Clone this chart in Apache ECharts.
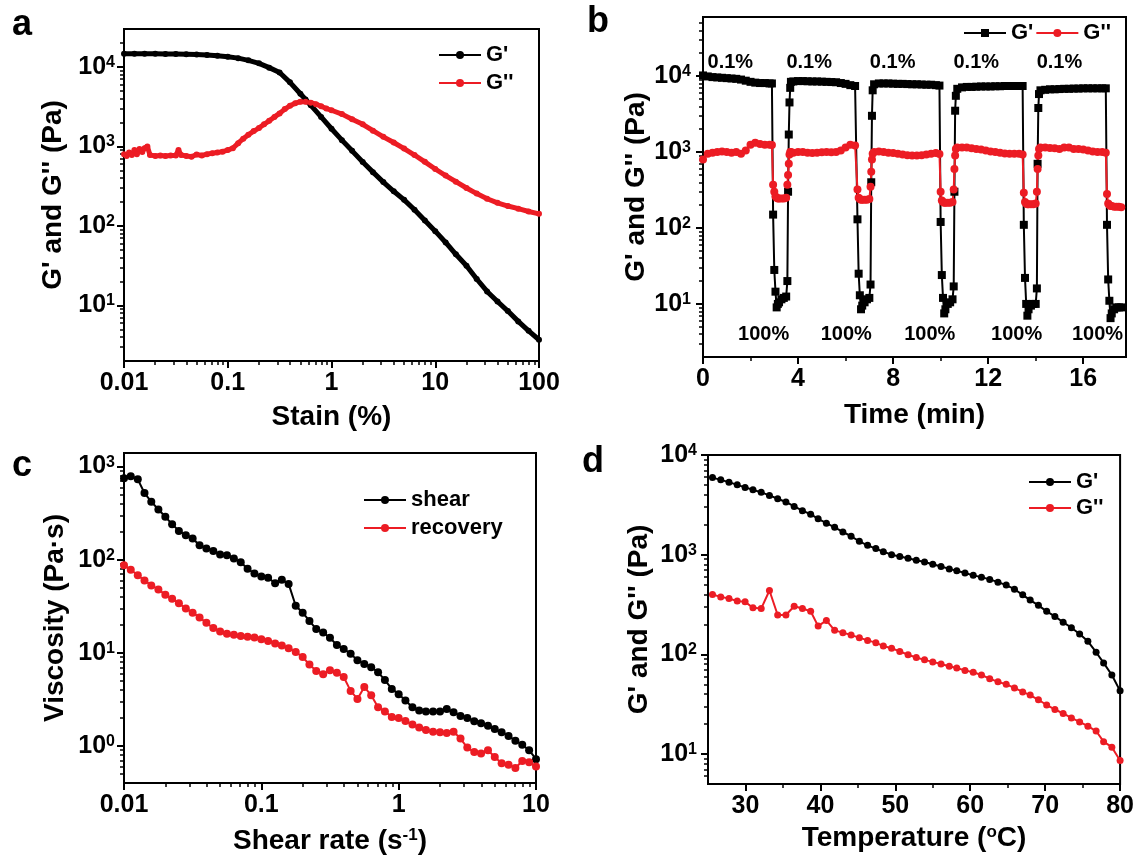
<!DOCTYPE html>
<html>
<head>
<meta charset="utf-8">
<script src="https://cdn.jsdelivr.net/npm/echarts@6/dist/echarts.min.js"></script>
<style>
  html, body { margin: 0; padding: 0; background: #fff; }
  #chart { width: 1137px; height: 859px; }
</style>
</head>
<body>
<div id="chart"></div>
<script>
// ---- panel a : strain sweep ----
var strainA = [0.01, 0.0126, 0.0158, 0.02, 0.0251, 0.0316, 0.0398, 0.0501, 0.0631, 0.0794, 0.1, 0.126, 0.158, 0.2, 0.251, 0.316, 0.398, 0.501, 0.562, 0.631, 0.794, 1, 1.26, 1.58, 2, 2.51, 3.16, 3.98, 5.01, 6.31, 7.94, 10, 12.6, 15.8, 20, 25.1, 31.6, 39.8, 50.1, 63.1, 79.4, 100];
var storageA = [14700, 14700, 14600, 14600, 14500, 14500, 14400, 14300, 14100, 13800, 13400, 12900, 12100, 11100, 9800, 8500, 6400, 4600, 3900, 3300, 2350, 1670, 1200, 880, 636, 475, 356, 273, 213, 160, 117, 86, 62, 44, 31.5, 21.5, 15, 11.2, 8.5, 6.3, 4.8, 3.7];
var lossStrainA = [0.01, 0.0106, 0.0112, 0.0119, 0.0126, 0.0133, 0.0141, 0.015, 0.0158, 0.0168, 0.0178, 0.02, 0.0224, 0.0251, 0.0282, 0.0316, 0.0335, 0.0355, 0.0398, 0.0447, 0.0501, 0.0562, 0.0631, 0.0708, 0.0794, 0.0891, 0.1, 0.112, 0.126, 0.141, 0.158, 0.178, 0.2, 0.224, 0.251, 0.282, 0.316, 0.355, 0.398, 0.447, 0.501, 0.562, 0.631, 0.708, 0.794, 0.891, 1, 1.26, 1.58, 2, 2.51, 3.16, 3.98, 5.01, 6.31, 7.94, 10, 12.6, 15.8, 20, 25.1, 31.6, 39.8, 50.1, 63.1, 79.4, 100];
var lossA = [800, 760, 840, 780, 900, 800, 930, 850, 950, 1000, 780, 760, 770, 760, 770, 770, 900, 780, 760, 740, 790, 770, 800, 820, 840, 860, 900, 950, 1100, 1250, 1400, 1560, 1700, 1900, 2100, 2350, 2600, 2950, 3250, 3500, 3650, 3650, 3550, 3400, 3200, 3000, 2850, 2550, 2200, 1900, 1580, 1320, 1120, 940, 780, 640, 520, 430, 360, 300, 255, 220, 195, 178, 165, 152, 142];

// ---- panel b : alternating strain 0.1 % / 100 % ----
var timeB = [
  0, 0.2, 0.4, 0.6, 0.8, 1.0, 1.2, 1.4, 1.6, 1.8, 2.0, 2.2, 2.4, 2.6, 2.8, 2.9,
  2.95, 3.0, 3.05, 3.1, 3.15, 3.2, 3.3, 3.4, 3.5,
  3.55, 3.58, 3.61, 3.64, 3.67, 3.7,
  3.8, 4.0, 4.2, 4.4, 4.6, 4.8, 5.0, 5.2, 5.4, 5.6, 5.8, 6.0, 6.2, 6.4,
  6.5, 6.55, 6.6, 6.65, 6.7, 6.8, 6.9, 7.0,
  7.05, 7.08, 7.11, 7.14, 7.2,
  7.4, 7.6, 7.8, 8.0, 8.2, 8.4, 8.6, 8.8, 9.0, 9.2, 9.4, 9.6, 9.8, 9.95,
  10.0, 10.05, 10.1, 10.15, 10.2, 10.3, 10.4, 10.5,
  10.55, 10.58, 10.61, 10.64, 10.7,
  10.9, 11.1, 11.3, 11.5, 11.7, 11.9, 12.1, 12.3, 12.5, 12.7, 12.9, 13.1, 13.3, 13.45,
  13.5, 13.55, 13.6, 13.65, 13.7, 13.8, 13.9, 14.0,
  14.05, 14.08, 14.11, 14.14, 14.2,
  14.4, 14.6, 14.8, 15.0, 15.2, 15.4, 15.6, 15.8, 16.0, 16.2, 16.4, 16.6, 16.8, 16.95,
  17.0, 17.05, 17.1, 17.15, 17.2, 17.3, 17.4, 17.5, 17.6
];
var storageB = [
  10200, 9900, 9700, 9600, 9500, 9400, 9300, 9200, 9000, 8700, 8400, 8200, 8100, 8100, 8000, 8000,
  150, 28, 14.5, 9, 10, 10.5, 11.5, 12, 12.5,
  20, 300, 1700, 4500, 7000, 8400,
  8500, 8600, 8600, 8550, 8500, 8500, 8450, 8400, 8350, 8300, 8100, 7900, 7600, 7400,
  130, 25, 13, 8.5, 9.5, 10.5, 11.5, 12,
  18, 400, 3000, 6500, 7800,
  8000, 8000, 8000, 7950, 7900, 7900, 7850, 7800, 7800, 7750, 7700, 7700, 7600, 7500,
  120, 24, 12, 7.5, 8.5, 10, 10.5, 11.5,
  17, 300, 3500, 5500, 6800,
  7100, 7200, 7200, 7250, 7300, 7300, 7300, 7350, 7350, 7400, 7400, 7400, 7400, 7400,
  110, 22, 10, 7, 8.5, 9.5, 10, 10,
  16, 700, 3800, 5800, 6500,
  6600, 6700, 6700, 6750, 6800, 6800, 6850, 6850, 6900, 6900, 6900, 6900, 6900, 6900,
  110, 21, 11, 6.5, 7.5, 8.5, 9, 9, 9
];
var lossB = [
  800, 950, 980, 1000, 1020, 1000, 980, 1000, 950, 1050, 1250, 1330, 1280, 1250, 1250, 1240,
  370, 300, 260, 250, 245, 245, 245, 245, 250,
  370, 500, 700, 930, 1000, 1000,
  980, 1000, 1000, 980, 970, 980, 990, 1000, 990, 1000, 1050, 1150, 1250, 1220,
  320, 250, 240, 235, 235, 235, 235, 240,
  350, 550, 800, 950, 1000,
  1020, 1000, 980, 970, 950, 930, 910, 900, 900, 910, 930, 950, 970, 940,
  300, 230, 220, 215, 215, 215, 215, 220,
  320, 600, 900, 1100, 1150,
  1150, 1150, 1120, 1100, 1080, 1050, 1020, 1000, 980, 960, 950, 950, 950, 930,
  290, 220, 210, 205, 205, 205, 205, 210,
  300, 600, 900, 1100, 1150,
  1150, 1130, 1120, 1100, 1150, 1150, 1100, 1100, 1080, 1050, 1020, 1000, 1000, 980,
  280, 210, 200, 195, 195, 190, 190, 190, 188
];
var lowStrainTimes = [1.15, 4.47, 7.98, 11.5, 15.0];
var highStrainTimes = [2.55, 6.03, 9.54, 13.2, 16.6];
var lowStrainText = '0.1%';
var highStrainText = '100%';
var timeMinorTicks = [2, 6, 10, 14];

// ---- panel c : viscosity vs shear rate ----
var shearRateC = [0.01, 0.0112, 0.0126, 0.0141, 0.0158, 0.0178, 0.02, 0.0224, 0.0251, 0.0282, 0.0316, 0.0355, 0.0398, 0.0447, 0.0501, 0.0562, 0.0631, 0.0708, 0.0794, 0.0891, 0.1, 0.112, 0.126, 0.141, 0.158, 0.178, 0.2, 0.224, 0.251, 0.282, 0.316, 0.355, 0.398, 0.447, 0.501, 0.562, 0.631, 0.708, 0.794, 0.891, 1, 1.12, 1.26, 1.41, 1.58, 1.78, 2, 2.24, 2.51, 2.82, 3.16, 3.55, 3.98, 4.47, 5.01, 5.62, 6.31, 7.08, 7.94, 8.91, 10];
var shearVisc = [750, 790, 730, 520, 420, 346, 289, 241, 204, 183, 169, 143, 132, 124, 114, 112, 103, 94, 80, 71, 66, 64, 56, 61, 55, 32, 27, 22, 18, 16.5, 14.5, 12.1, 11.0, 9.8, 8.3, 7.6, 7.0, 6.2, 5.1, 4.1, 3.6, 3.07, 2.6, 2.4, 2.35, 2.35, 2.35, 2.5, 2.3, 2.1, 2.0, 1.84, 1.75, 1.65, 1.52, 1.4, 1.28, 1.14, 1.03, 0.9, 0.72];
var recoveryVisc = [87, 78, 68, 60, 53, 48, 42, 38, 34, 30, 27, 24, 21, 18.5, 17, 16, 15.6, 15.2, 14.9, 14.6, 14.0, 13.4, 12.6, 12, 11.2, 10.2, 9.0, 7.5, 6.4, 5.9, 6.5, 6.1, 5.5, 3.9, 3.2, 4.3, 3.5, 2.6, 2.35, 2.05, 2.0, 1.85, 1.7, 1.58, 1.48, 1.42, 1.4, 1.38, 1.42, 1.2, 0.96, 0.86, 0.83, 0.9, 0.76, 0.65, 0.63, 0.58, 0.69, 0.67, 0.6];

// ---- panel d : temperature sweep ----
var tempD = [25.6, 26.7, 27.8, 28.9, 29.95, 31.0, 32.1, 33.2, 34.3, 35.4, 36.5, 37.6, 38.7, 39.7, 40.8, 41.9, 43.0, 44.1, 45.2, 46.3, 47.4, 48.4, 49.5, 50.6, 51.7, 52.8, 53.9, 55.0, 56.1, 57.2, 58.2, 59.3, 60.4, 61.5, 62.6, 63.7, 64.8, 65.9, 67.0, 68.0, 69.1, 70.2, 71.3, 72.4, 73.5, 74.6, 75.7, 76.8, 77.8, 78.9, 80.0];
var storageD = [5930, 5630, 5340, 5020, 4730, 4480, 4220, 3930, 3640, 3380, 3050, 2760, 2550, 2290, 2070, 1880, 1690, 1530, 1360, 1240, 1150, 1070, 1000, 960, 920, 880, 845, 800, 760, 720, 690, 655, 620, 595, 565, 530, 495, 450, 395, 350, 310, 270, 240, 210, 185, 160, 135, 105, 82, 62, 43];
var lossD = [398, 377, 363, 342, 336, 293, 288, 437, 248, 248, 304, 288, 271, 192, 219, 174, 165, 156, 147, 138, 131, 121, 115, 107, 99, 93, 88, 84, 80, 76, 73, 69, 66, 62, 57, 53, 50, 46, 42, 39, 35, 31, 28, 25.5, 23, 21, 19, 17, 13.3, 11.7, 8.6];

var tempTicks = [30, 40, 50, 60, 70, 80];
var tempMinorTicks = [35, 45, 55, 65, 75];

var FONT = '"Liberation Sans", Arial, sans-serif';
var RED = '#ec1c24';
var BLACK = '#000';

function zip(xs, ys) {
  return xs.map(function (x, i) { return [x, ys[i]]; });
}

// 2..9 x 10^n between min and max, in log10 units (drawn on a linear twin axis)
function logMinor(min, max) {
  var out = [];
  for (var d = Math.pow(10, Math.floor(Math.log10(min))); d < max; d *= 10) {
    for (var k = 2; k <= 9; k++) {
      var v = k * d;
      if (v > min * 1.0001 && v < max * 0.9999) out.push(Math.log10(v));
    }
  }
  return out;
}

function powLabel(v) {
  return '10{sup|' + Math.round(Math.log10(v)) + '}';
}
function plainLabel(v) {
  return String(+(+v).toPrecision(3));
}

var labelSup = { fontSize: 16, fontWeight: 'bold', fontFamily: FONT, color: BLACK, verticalAlign: 'top', lineHeight: 14 };
var nameSup = { fontSize: 17, fontWeight: 'bold', fontFamily: FONT, color: BLACK, verticalAlign: 'top', lineHeight: 16 };

function axis(gridIndex, type, min, max, name, nameGap, label, tick, extra) {
  return Object.assign({
    type: type, gridIndex: gridIndex, min: min, max: max,
    name: name, nameLocation: 'middle', nameGap: nameGap,
    nameTextStyle: { color: BLACK, fontSize: 28, fontWeight: 'bold', fontFamily: FONT, rich: { sup: nameSup } },
    axisLine: { show: true, onZero: false, lineStyle: { color: BLACK, width: 2 } },
    axisTick: Object.assign({ show: true, length: 7, lineStyle: { color: BLACK, width: 2 } }, tick || {}),
    axisLabel: Object.assign({ color: BLACK, fontSize: 25, fontWeight: 'bold', fontFamily: FONT, margin: 9, rich: { sup: labelSup } }, label || {}),
    splitLine: { show: false }
  }, extra || {});
}

// linear twin axis on the same edge, only used to draw the short ticks
// (its line sits exactly on the main axis line; ticks vanish if the line is hidden)
function minorAxis(gridIndex, min, max, position, values) {
  return {
    type: 'value', gridIndex: gridIndex, min: min, max: max, position: position,
    axisLine: { show: true, onZero: false, lineStyle: { color: BLACK, width: 2 } },
    axisLabel: { show: false },
    axisTick: { show: true, length: 4, customValues: values, lineStyle: { color: BLACK, width: 1.5 } },
    splitLine: { show: false }
  };
}
function logMinorAxis(gridIndex, min, max, position) {
  return minorAxis(gridIndex, Math.log10(min), Math.log10(max), position, logMinor(min, max));
}

function lineSeries(name, xi, yi, data, color, symbol, size, width) {
  return {
    name: name, type: 'line', xAxisIndex: xi, yAxisIndex: yi, data: data,
    symbol: symbol, symbolSize: size,
    lineStyle: { color: color, width: width },
    itemStyle: { color: color },
    animation: false
  };
}

function legend(names, left, top, orient, gap) {
  return {
    data: names, left: left, top: top, orient: orient, itemGap: gap, padding: 0,
    itemWidth: 42, itemHeight: 10, selectedMode: false,
    formatter: function (n) { return n.split('|')[1]; },
    lineStyle: { width: 2 },
    textStyle: { color: BLACK, fontSize: 22, fontWeight: 'bold', fontFamily: FONT }
  };
}

function panelTitle(text, left, top) {
  return { text: text, left: left, top: top, padding: 0,
    textStyle: { color: BLACK, fontSize: 36, fontWeight: 'bold', fontFamily: FONT } };
}

var gridBox = { show: true, borderColor: BLACK, borderWidth: 2, backgroundColor: 'transparent' };

// empty series so the twin tick axes belong to a cartesian
var tickHolders = [0, 1, 2, 3].map(function (i) {
  return { type: 'line', xAxisIndex: 4 + i, yAxisIndex: 4 + i, data: [], silent: true };
});

var chart = echarts.init(document.getElementById('chart'));
chart.setOption({
  animation: false,
  backgroundColor: '#fff',
  title: [panelTitle('a', 12, 7), panelTitle('b', 587, 4), panelTitle('c', 12, 448), panelTitle('d', 582, 444)],
  grid: [
    Object.assign({ left: 124, top: 29, width: 415, height: 332 }, gridBox),
    Object.assign({ left: 703, top: 17, width: 423, height: 340 }, gridBox),
    Object.assign({ left: 124, top: 453, width: 412, height: 330 }, gridBox),
    Object.assign({ left: 708, top: 455, width: 414, height: 329 }, gridBox)
  ],
  xAxis: [
    axis(0, 'log', 0.01, 100, 'Stain (%)', 42, { formatter: plainLabel, margin: 10 }),
    axis(1, 'value', 0, 17.8, 'Time (min)', 44, { showMaxLabel: false, margin: 10 }, {}, { interval: 4 }),
    axis(2, 'log', 0.01, 10, 'Shear rate (s{sup|-1})', 44, { formatter: plainLabel, margin: 10 }),
    axis(3, 'value', 25, 80, 'Temperature ({sup|o}C)', 40, { customValues: tempTicks, margin: 10 }, { customValues: tempTicks }),
    logMinorAxis(0, 0.01, 100, 'bottom'),
    minorAxis(1, 0, 17.8, 'bottom', timeMinorTicks),
    logMinorAxis(2, 0.01, 10, 'bottom'),
    minorAxis(3, 25, 80, 'bottom', tempMinorTicks)
  ],
  yAxis: [
    axis(0, 'log', 2, 30000, "G' and G'' (Pa)", 57, { formatter: powLabel, showMinLabel: false, showMaxLabel: false }),
    axis(1, 'log', 2, 60000, "G' and G'' (Pa)", 52, { formatter: powLabel, showMinLabel: false, showMaxLabel: false, margin: 12 }),
    axis(2, 'log', 0.4, 1400, 'Viscosity (Pa·s)', 55, { formatter: powLabel, showMinLabel: false, showMaxLabel: false }),
    axis(3, 'log', 5, 10000, "G' and G'' (Pa)", 55, { formatter: powLabel, showMinLabel: false, margin: 11 }),
    logMinorAxis(0, 2, 30000, 'left'),
    logMinorAxis(1, 2, 60000, 'left'),
    logMinorAxis(2, 0.4, 1400, 'left'),
    logMinorAxis(3, 5, 10000, 'left')
  ],
  legend: [
    legend(["a|G'", "a|G''"], 438, 44, 'vertical', 6),
    legend(["b|G'", "b|G''"], 963, 22, 'horizontal', 2),
    legend(['c|shear', 'c|recovery'], 363, 489, 'vertical', 6),
    legend(["d|G'", "d|G''"], 1028, 471, 'vertical', 4)
  ],
  series: [
    lineSeries("a|G'", 0, 0, zip(strainA, storageA), BLACK, 'circle', 6, 5),
    lineSeries("a|G''", 0, 0, zip(lossStrainA, lossA), RED, 'circle', 6, 5),
    lineSeries("b|G'", 1, 1, zip(timeB, storageB), BLACK, 'rect', 8, 2),
    lineSeries("b|G''", 1, 1, zip(timeB, lossB), RED, 'circle', 8, 2),
    {
      type: 'scatter', xAxisIndex: 1, yAxisIndex: 1, symbolSize: 0, silent: true, animation: false,
      itemStyle: { color: BLACK, opacity: 1 },
      data: lowStrainTimes.map(function (t) { return { value: [t, 15300], name: lowStrainText }; })
        .concat(highStrainTimes.map(function (t) { return { value: [t, 3.9], name: highStrainText }; })),
      label: { show: true, position: 'inside', formatter: '{b}', color: BLACK, opacity: 1, textBorderWidth: 0,
        fontSize: 20, fontWeight: 'bold', fontFamily: FONT }
    },
    lineSeries('c|shear', 2, 2, zip(shearRateC, shearVisc), BLACK, 'circle', 8, 2),
    lineSeries('c|recovery', 2, 2, zip(shearRateC, recoveryVisc), RED, 'circle', 8, 2),
    lineSeries("d|G'", 3, 3, zip(tempD, storageD), BLACK, 'circle', 7, 2),
    lineSeries("d|G''", 3, 3, zip(tempD, lossD), RED, 'circle', 7, 2)
  ].concat(tickHolders)
});
</script>
</body>
</html>
